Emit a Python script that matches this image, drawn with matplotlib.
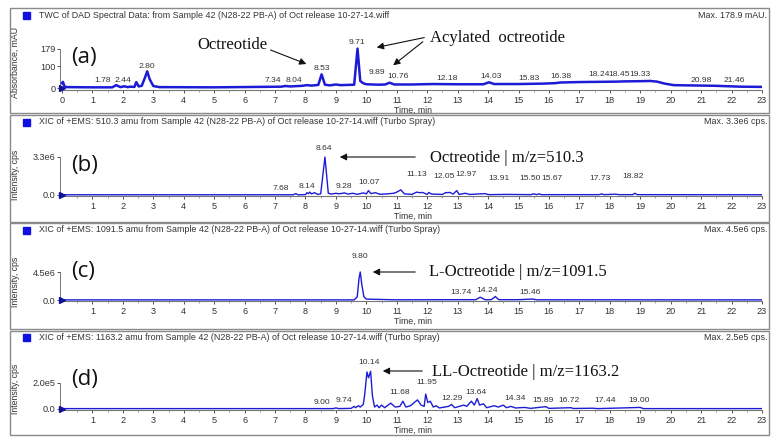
import matplotlib
matplotlib.use("Agg")
import matplotlib.pyplot as plt
from matplotlib.patches import Rectangle, FancyArrowPatch

W, H = 771, 437
BLUE = "#1c1cd6"
GRAY = "#333333"

# ---------------- data ----------------
# (a) TWC of DAD, mAU
a_t = [0.0, 0.03, 0.08, 0.15, 1.0, 1.65, 1.78, 1.92, 2.05, 2.15, 2.25, 2.38, 2.44, 2.52,
       2.62, 2.72, 2.80, 2.88, 3.0, 3.2, 5.0, 6.5, 7.2, 7.34, 7.5, 7.9, 8.04, 8.2, 8.42,
       8.53, 8.64, 8.8, 9.0, 9.15, 9.6, 9.71, 9.8, 9.89, 10.0, 10.4, 10.62, 10.76, 10.92,
       11.5, 12.18, 13.0, 13.85, 14.03, 14.2, 15.0, 15.83, 16.2, 16.38, 17.0, 18.24, 18.45,
       19.0, 19.33, 19.55, 19.8, 20.1, 20.98, 21.46, 22.3, 23.0]
a_y = [22, 28, 8, 4, 3, 3, 13, 4, 8, 4, 6, 5, 27, 7,
       10, 45, 76, 40, 9, 4, 3, 5, 6, 9, 7, 10, 13, 11, 14,
       62, 15, 12, 16, 13, 15, 179, 32, 22, 17, 15, 16, 24, 16,
       16, 18, 17, 17, 26, 18, 18, 20, 22, 25, 27, 29, 30,
       31, 32, 29, 20, 13, 11, 10, 6, 5]
a_labels = ["1.78", "2.44", "2.80", "7.34", "8.04", "8.53", "9.71", "9.89", "10.76", "12.18",
            "14.03", "15.83", "16.38", "18.24", "18.45", "19.33", "20.98", "21.46"]

# (b) XIC 510.3 amu, cps (x1e6)
b_t = [0.0, 7.6, 7.68, 7.75, 8.0, 8.05, 8.1, 8.14, 8.2, 8.3, 8.4, 8.5, 8.64, 8.75, 8.85,
       9.0, 9.1, 9.28, 9.4, 9.55, 9.7, 9.9, 10.0, 10.07, 10.15, 10.3, 10.45, 10.7, 10.9,
       11.0, 11.13, 11.25, 11.5, 11.65, 11.75, 11.85, 12.0, 12.05, 12.15, 12.5, 12.6, 12.75,
       12.85, 12.97, 13.05, 13.25, 13.4, 13.91, 14.0, 14.6, 15.4, 15.5, 15.6, 15.67, 15.75,
       17.65, 17.73, 17.8, 18.2, 18.3, 18.75, 18.82, 18.9, 23.0]
b_y = [0.02, 0.02, 0.12, 0.02, 0.03, 0.2, 0.12, 0.25, 0.1, 0.2, 0.05, 0.1, 3.3, 0.15, 0.08,
       0.15, 0.1, 0.18, 0.08, 0.15, 0.06, 0.18, 0.1, 0.38, 0.12, 0.2, 0.06, 0.1, 0.15,
       0.25, 0.45, 0.1, 0.05, 0.25, 0.2, 0.22, 0.05, 0.22, 0.08, 0.05, 0.2, 0.22,
       0.08, 0.38, 0.05, 0.15, 0.05, 0.12, 0.03, 0.05, 0.03, 0.1, 0.03, 0.1, 0.03,
       0.03, 0.1, 0.03, 0.07, 0.03, 0.03, 0.15, 0.03, 0.02]
b_labels = ["7.68", "8.14", "8.64", "9.28", "10.07", "11.13", "12.05", "12.97", "13.91",
            "15.50", "15.67", "17.73", "18.82"]

# (c) XIC 1091.5 amu, cps (x1e6)
c_t = [0.0, 9.6, 9.7, 9.76, 9.80, 9.85, 9.92, 10.0, 10.5, 11.0, 13.0, 13.6, 13.74, 13.9,
       14.1, 14.24, 14.35, 15.0, 15.46, 15.6, 23.0]
c_y = [0.02, 0.02, 0.5, 3.5, 4.5, 2.5, 0.5, 0.15, 0.08, 0.03, 0.05, 0.05, 0.45, 0.05,
       0.05, 0.55, 0.05, 0.05, 0.15, 0.03, 0.02]
c_labels = ["9.80", "13.74", "14.24", "15.46"]

# (d) XIC 1163.2 amu, cps (x1e5)
d_t = [0.0, 8.9, 9.0, 9.1, 9.5, 9.6, 9.65, 9.74, 9.8, 9.9, 9.95, 10.02, 10.07, 10.14, 10.2,
       10.27, 10.35, 10.42, 10.5, 10.6, 10.8, 10.95, 11.1, 11.2, 11.3, 11.45, 11.6, 11.68,
       11.8, 11.9, 11.95, 12.02, 12.1, 12.2, 12.29, 12.4, 12.7, 12.8, 12.9, 13.2, 13.3,
       13.45, 13.55, 13.64, 13.72, 13.85, 13.95, 14.2, 14.34, 14.5, 14.6, 14.75, 14.9,
       15.2, 15.4, 15.89, 16.0, 16.72, 16.8, 17.44, 17.6, 19.0, 19.1, 23.0]
d_y = [0.03, 0.03, 0.08, 0.03, 0.05, 0.2, 0.1, 0.25, 0.15, 0.35, 1.2, 2.85, 2.4, 2.9, 1.0,
       0.15, 0.3, 0.1, 0.3, 0.1, 0.45, 0.15, 0.2, 0.6, 0.15, 0.25, 0.55, 0.7,
       0.3, 0.2, 1.15, 0.5, 0.6, 0.15, 0.25, 0.08, 0.2, 0.35, 0.1, 0.3, 0.2,
       0.6, 0.3, 0.8, 0.3, 0.4, 0.1, 0.25, 0.15, 0.3, 0.1, 0.2, 0.08,
       0.12, 0.05, 0.18, 0.05, 0.1, 0.04, 0.06, 0.03, 0.12, 0.03, 0.03]
d_labels = ["9.00", "9.74", "10.14", "11.68", "11.95", "12.29", "13.64", "14.34", "15.89",
            "16.72", "17.44", "19.00"]

titles = ["TWC of DAD Spectral Data: from Sample 42 (N28-22 PB-A) of Oct release 10-27-14.wiff",
          "XIC of +EMS: 510.3 amu from Sample 42 (N28-22 PB-A) of Oct release 10-27-14.wiff (Turbo Spray)",
          "XIC of +EMS: 1091.5 amu from Sample 42 (N28-22 PB-A) of Oct release 10-27-14.wiff (Turbo Spray)",
          "XIC of +EMS: 1163.2 amu from Sample 42 (N28-22 PB-A) of Oct release 10-27-14.wiff (Turbo Spray)"]
max_texts = ["Max. 178.9 mAU.", "Max. 3.3e6 cps.", "Max. 4.5e6 cps.", "Max. 2.5e5 cps."]
ylabels = ["Absorbance, mAU", "Intensity, cps", "Intensity, cps", "Intensity, cps"]
ytick_vals = [[0, 100, 179], [0, 3.3], [0, 4.5], [0, 2.0]]
ytick_text = [["0", "100", "179"], ["0.0", "3.3e6"], ["0.0", "4.5e6"], ["0.0", "2.0e5"]]
panel_tags = ["(a)", "(b)", "(c)", "(d)"]

# ---------------- layout (pixels) ----------------
panels = [
    dict(f0=8, f1=113, top=38, bot=90, zero=88, upp=100 / 22, ty=15, yl=62, tag_y=58),
    dict(f0=115, f1=222, top=140, bot=196, zero=195, upp=3.3 / 38, ty=122, yl=175, tag_y=165),
    dict(f0=223, f1=329, top=250, bot=301, zero=300, upp=4.5 / 28, ty=230, yl=282, tag_y=272),
    dict(f0=331, f1=435, top=355, bot=410, zero=409, upp=2.0 / 26, ty=337, yl=389, tag_y=380),
]
# peak label placement: (x in data, pixels above zero line)
label_pos = [
    [(1.35, 8), (2.0, 8), (2.79, 22), (6.93, 8), (7.62, 8), (8.55, 20), (9.70, 45), (10.35, 16),
     (11.05, 12), (12.65, 10), (14.1, 12), (15.35, 10), (16.4, 12), (17.64, 13), (18.3, 13),
     (19.0, 13), (21.0, 8), (22.1, 7)],
    [(7.2, 7), (8.05, 9), (8.6, 46), (9.27, 9), (10.08, 13), (11.66, 20), (12.55, 18),
     (13.27, 20), (14.35, 17), (15.38, 17), (16.1, 17), (17.67, 17), (18.75, 19)],
    [(9.8, 43), (13.1, 8), (13.97, 9), (15.37, 7)],
    [(8.53, 7), (9.27, 8), (10.1, 46), (11.1, 16), (11.98, 26), (12.8, 11), (13.6, 17),
     (14.88, 10), (15.8, 9), (16.65, 9), (17.86, 8), (18.95, 9)],
]

traces = [(a_t, a_y), (b_t, b_y), (c_t, c_y), (d_t, d_y)]
all_labels = [a_labels, b_labels, c_labels, d_labels]


def fx(px):
    return px / W


def fy(py):
    return 1 - py / H


fig = plt.figure(figsize=(W / 100, H / 100), dpi=100)
plt.rcParams['font.family'] = ['Liberation Sans', 'DejaVu Sans']

X0, X1 = 60, 762
for i, p in enumerate(panels):
    # panel frame
    fig.add_artist(Rectangle((fx(10), fy(p['f1'])), fx(769) - fx(10), (p['f1'] - p['f0']) / H,
                             transform=fig.transFigure, fill=False, ec="#8a8a8a", lw=1.0))
    ax = fig.add_axes([fx(X0), fy(p['bot']), fx(X1) - fx(X0), (p['bot'] - p['top']) / H])
    t, y = traces[i]
    ax.plot(t, y, color=BLUE, lw=1.8 if i == 0 else 1.0, solid_joinstyle='round', zorder=3)
    ax.plot([0], [0], marker='>', ms=4, color='#10109a', clip_on=False, zorder=4)
    ax.set_xlim(-(62 - X0) * 23 / (762 - 62), 23)
    ax.set_ylim(-(p['bot'] - p['zero']) * p['upp'], (p['zero'] - p['top']) * p['upp'])
    for s in ['top', 'right']:
        ax.spines[s].set_visible(False)
    ax.spines['left'].set_bounds(0, ytick_vals[i][-1])
    ax.spines['left'].set_color('#777777')
    ax.spines['bottom'].set_color('#777777')
    ax.spines['left'].set_linewidth(0.7)
    ax.spines['bottom'].set_linewidth(0.8)
    ax.set_yticks(ytick_vals[i])
    ax.set_yticklabels(ytick_text[i])
    xt = list(range(0, 24)) if i == 0 else list(range(1, 24))
    ax.set_xticks(xt)
    ax.set_xticklabels([str(v) for v in xt])
    ax.set_xticks([v + 0.5 for v in range(23)], minor=True)
    ax.tick_params(axis='x', which='major', length=2.5, width=0.6, pad=1.5, labelsize=6.6,
                   colors=GRAY)
    ax.tick_params(axis='x', which='minor', length=1.2, width=0.5, color='#777777')
    ax.tick_params(axis='y', length=2, width=0.6, pad=1, labelsize=6.6, colors=GRAY)
    ax.set_xlabel("Time, min", fontsize=6.3, color=GRAY)
    ax.xaxis.set_label_coords((413 - X0) / (X1 - X0), -16 / (p['bot'] - p['top']))
    ax.patch.set_alpha(0)

    # peak labels
    for txt, (lx, lh) in zip(all_labels[i], label_pos[i]):
        ax.annotate(txt, xy=(lx, 0), xytext=(0, lh), textcoords='offset pixels',
                    ha='center', va='center', fontsize=6.1, color=GRAY)

    # header line, y label and panel tag
    fig.add_artist(Rectangle((fx(22.5), fy(p['ty'] + 3.5)), 7 / W, 7 / H,
                             transform=fig.transFigure, color='#1010e0'))
    fig.text(fx(39), fy(p['ty']), titles[i], fontsize=6.4, color=GRAY, va='center')
    fig.text(fx(767), fy(p['ty']), max_texts[i], fontsize=6.4, color=GRAY, va='center', ha='right')
    fig.text(fx(15), fy(p['yl']), ylabels[i], fontsize=6.3, color=GRAY, rotation=90,
             va='center', ha='center')
    fig.text(fx(71), fy(p['tag_y']), panel_tags[i], fontsize=16, family='Open Sans',
             va='center', ha='left', color='#111111')

# serif annotations with arrows
serif = dict(family='Liberation Serif', fontsize=12, color='#111111', va='center')
fig.text(fx(232), fy(45), "Octreotide", ha='center', **serif)
fig.text(fx(430), fy(38), "Acylated  octreotide", ha='left', **serif)
fig.text(fx(430), fy(158), "Octreotide | m/z=510.3", ha='left', **serif)
fig.text(fx(429), fy(272), "L-Octreotide | m/z=1091.5", ha='left', **serif)
fig.text(fx(432), fy(372), "LL-Octreotide | m/z=1163.2", ha='left', **serif)

arrows = [((268, 49), (309, 65)), ((427, 37), (374, 48)), ((425, 40), (391, 67)),
          ((418, 157), (337, 157)), ((418, 272), (370, 272)), ((425, 371), (380, 371))]
for (sx, sy), (ex, ey) in arrows:
    fig.add_artist(FancyArrowPatch(
        (fx(sx), fy(sy)), (fx(ex), fy(ey)), transform=fig.transFigure,
        arrowstyle='-|>,head_length=4,head_width=2', mutation_scale=1, color='#111111', lw=0.8))

fig.savefig("out.png", dpi=100)
